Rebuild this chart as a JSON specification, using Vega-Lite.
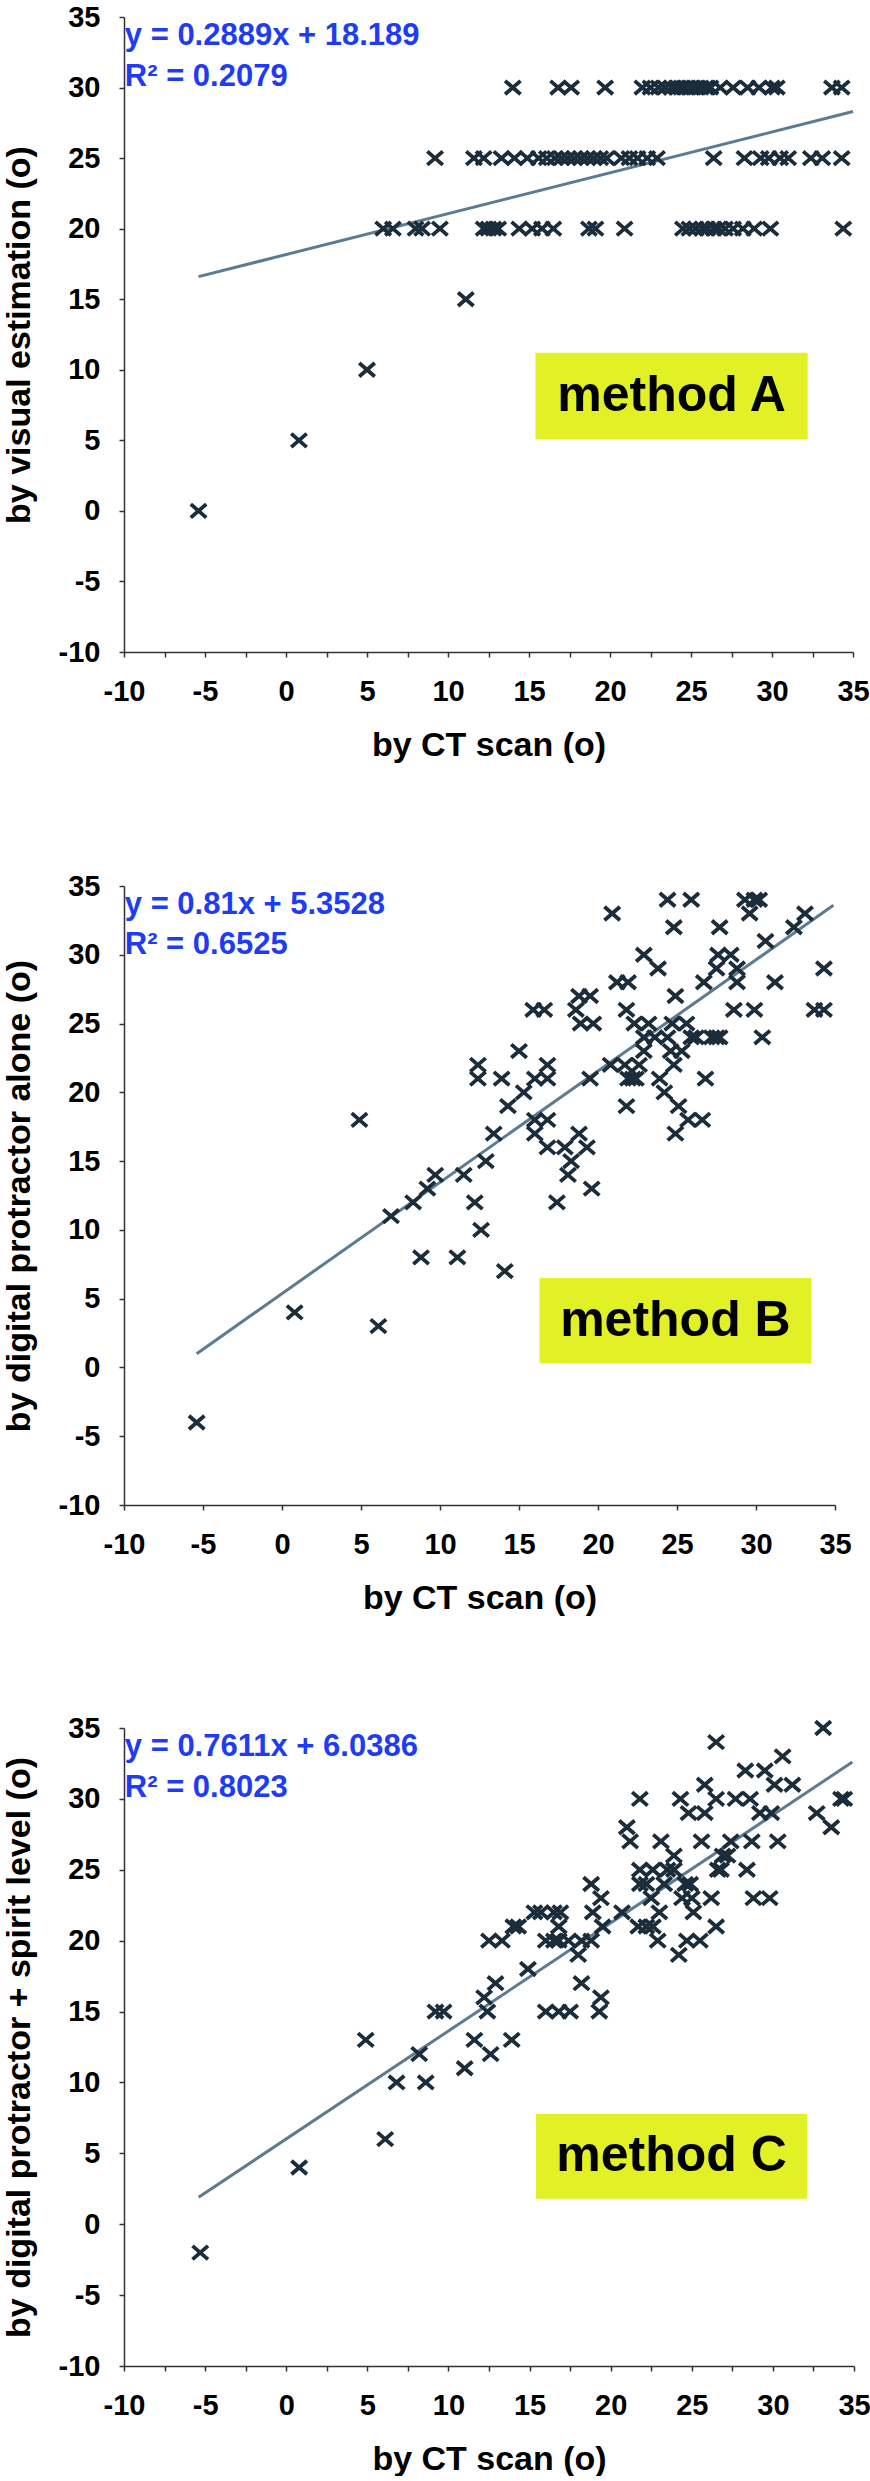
{
  "$schema": "https://vega.github.io/schema/vega-lite/v6.json",
  "padding": {"left": 2, "top": 3, "right": 0, "bottom": 0},
  "background": "white",
  "datasets": {
    "A": [
      {"x": -5.4, "y": 0}, {"x": 0.8, "y": 5}, {"x": 5.0, "y": 10}, {"x": 11.1, "y": 15},
      {"x": 14.0, "y": 30}, {"x": 16.8, "y": 30}, {"x": 17.6, "y": 30}, {"x": 19.7, "y": 30},
      {"x": 22.0, "y": 30}, {"x": 22.5, "y": 30}, {"x": 23.0, "y": 30}, {"x": 23.4, "y": 30},
      {"x": 23.8, "y": 30}, {"x": 24.1, "y": 30}, {"x": 24.4, "y": 30}, {"x": 24.7, "y": 30},
      {"x": 25.0, "y": 30}, {"x": 25.3, "y": 30}, {"x": 25.6, "y": 30}, {"x": 25.9, "y": 30},
      {"x": 26.2, "y": 30}, {"x": 26.8, "y": 30}, {"x": 27.6, "y": 30}, {"x": 28.5, "y": 30},
      {"x": 29.2, "y": 30}, {"x": 30.0, "y": 30}, {"x": 30.3, "y": 30}, {"x": 33.7, "y": 30},
      {"x": 34.3, "y": 30},
      {"x": 9.2, "y": 25}, {"x": 11.6, "y": 25}, {"x": 12.2, "y": 25}, {"x": 13.3, "y": 25},
      {"x": 14.1, "y": 25}, {"x": 14.9, "y": 25}, {"x": 15.6, "y": 25}, {"x": 16.1, "y": 25},
      {"x": 16.6, "y": 25}, {"x": 17.0, "y": 25}, {"x": 17.4, "y": 25}, {"x": 17.8, "y": 25},
      {"x": 18.2, "y": 25}, {"x": 18.6, "y": 25}, {"x": 19.0, "y": 25}, {"x": 19.4, "y": 25},
      {"x": 19.8, "y": 25}, {"x": 20.7, "y": 25}, {"x": 21.2, "y": 25}, {"x": 21.7, "y": 25},
      {"x": 22.3, "y": 25}, {"x": 22.9, "y": 25}, {"x": 26.4, "y": 25}, {"x": 28.3, "y": 25},
      {"x": 29.3, "y": 25}, {"x": 29.8, "y": 25}, {"x": 30.5, "y": 25}, {"x": 31.0, "y": 25},
      {"x": 32.4, "y": 25}, {"x": 33.1, "y": 25}, {"x": 34.3, "y": 25},
      {"x": 6.0, "y": 20}, {"x": 6.6, "y": 20}, {"x": 8.0, "y": 20}, {"x": 8.4, "y": 20},
      {"x": 9.5, "y": 20}, {"x": 12.2, "y": 20}, {"x": 12.5, "y": 20}, {"x": 12.8, "y": 20},
      {"x": 13.1, "y": 20}, {"x": 14.4, "y": 20}, {"x": 15.2, "y": 20}, {"x": 15.8, "y": 20},
      {"x": 16.5, "y": 20}, {"x": 18.7, "y": 20}, {"x": 19.1, "y": 20}, {"x": 20.9, "y": 20},
      {"x": 24.5, "y": 20}, {"x": 24.9, "y": 20}, {"x": 25.3, "y": 20}, {"x": 25.7, "y": 20},
      {"x": 26.0, "y": 20}, {"x": 26.4, "y": 20}, {"x": 26.7, "y": 20}, {"x": 27.1, "y": 20},
      {"x": 27.6, "y": 20}, {"x": 28.2, "y": 20}, {"x": 28.9, "y": 20}, {"x": 29.9, "y": 20},
      {"x": 34.4, "y": 20}
    ],
    "B": [
      {"x": -5.4, "y": -4}, {"x": 0.8, "y": 4}, {"x": 6.1, "y": 3}, {"x": 4.9, "y": 18},
      {"x": 6.9, "y": 11}, {"x": 8.3, "y": 12}, {"x": 8.8, "y": 8}, {"x": 9.2, "y": 13},
      {"x": 9.7, "y": 14}, {"x": 11.1, "y": 8}, {"x": 11.5, "y": 14}, {"x": 12.2, "y": 12},
      {"x": 12.6, "y": 10}, {"x": 12.9, "y": 15}, {"x": 13.4, "y": 17}, {"x": 14.1, "y": 7},
      {"x": 14.3, "y": 19}, {"x": 15.3, "y": 20}, {"x": 15.0, "y": 23}, {"x": 12.4, "y": 22},
      {"x": 12.4, "y": 21}, {"x": 13.9, "y": 21}, {"x": 16.0, "y": 21}, {"x": 16.8, "y": 22},
      {"x": 16.8, "y": 21}, {"x": 15.9, "y": 26}, {"x": 16.6, "y": 26}, {"x": 18.6, "y": 26},
      {"x": 18.8, "y": 27}, {"x": 19.5, "y": 27}, {"x": 18.9, "y": 25}, {"x": 19.7, "y": 25},
      {"x": 19.5, "y": 21}, {"x": 16.0, "y": 18}, {"x": 16.8, "y": 18}, {"x": 16.0, "y": 17},
      {"x": 16.8, "y": 16}, {"x": 17.9, "y": 16}, {"x": 17.4, "y": 12}, {"x": 18.3, "y": 15},
      {"x": 18.1, "y": 14}, {"x": 18.8, "y": 17}, {"x": 19.3, "y": 16}, {"x": 19.6, "y": 13},
      {"x": 20.9, "y": 33}, {"x": 24.4, "y": 34}, {"x": 25.9, "y": 34}, {"x": 29.3, "y": 34},
      {"x": 29.9, "y": 34}, {"x": 30.2, "y": 34}, {"x": 29.6, "y": 33}, {"x": 24.8, "y": 32},
      {"x": 27.7, "y": 32}, {"x": 33.1, "y": 33}, {"x": 32.4, "y": 32}, {"x": 30.6, "y": 31},
      {"x": 22.9, "y": 30}, {"x": 23.8, "y": 29}, {"x": 27.6, "y": 30}, {"x": 28.4, "y": 30},
      {"x": 27.5, "y": 29}, {"x": 28.8, "y": 29}, {"x": 34.3, "y": 29}, {"x": 28.8, "y": 28},
      {"x": 26.7, "y": 28}, {"x": 31.2, "y": 28}, {"x": 21.2, "y": 28}, {"x": 21.9, "y": 28},
      {"x": 24.9, "y": 27}, {"x": 21.8, "y": 26}, {"x": 28.6, "y": 26}, {"x": 29.9, "y": 26},
      {"x": 33.7, "y": 26}, {"x": 34.3, "y": 26}, {"x": 22.3, "y": 25}, {"x": 23.2, "y": 25},
      {"x": 24.7, "y": 25}, {"x": 25.6, "y": 25},
      {"x": 22.9, "y": 24}, {"x": 23.6, "y": 24}, {"x": 24.4, "y": 24}, {"x": 25.9, "y": 24},
      {"x": 26.2, "y": 24}, {"x": 27.2, "y": 24}, {"x": 27.5, "y": 24}, {"x": 27.7, "y": 24},
      {"x": 30.4, "y": 24}, {"x": 22.9, "y": 23}, {"x": 24.6, "y": 23}, {"x": 25.3, "y": 23},
      {"x": 20.8, "y": 22}, {"x": 21.7, "y": 22}, {"x": 22.6, "y": 22}, {"x": 24.8, "y": 22},
      {"x": 21.9, "y": 21}, {"x": 22.2, "y": 21}, {"x": 22.4, "y": 21}, {"x": 23.9, "y": 21},
      {"x": 26.8, "y": 21}, {"x": 24.2, "y": 20}, {"x": 21.8, "y": 19}, {"x": 25.1, "y": 19},
      {"x": 25.7, "y": 18}, {"x": 26.6, "y": 18}, {"x": 24.9, "y": 17}
    ],
    "C": [
      {"x": -5.3, "y": -2}, {"x": 0.8, "y": 4}, {"x": 6.1, "y": 6}, {"x": 4.9, "y": 13},
      {"x": 6.8, "y": 10}, {"x": 8.6, "y": 10}, {"x": 8.2, "y": 12}, {"x": 11.0, "y": 11},
      {"x": 11.6, "y": 13}, {"x": 12.6, "y": 12}, {"x": 13.9, "y": 13}, {"x": 9.2, "y": 15},
      {"x": 9.7, "y": 15}, {"x": 12.4, "y": 15}, {"x": 12.2, "y": 16}, {"x": 12.9, "y": 17},
      {"x": 14.9, "y": 18}, {"x": 16.0, "y": 15}, {"x": 16.8, "y": 15}, {"x": 17.5, "y": 15},
      {"x": 18.2, "y": 17}, {"x": 19.3, "y": 15}, {"x": 19.4, "y": 16}, {"x": 12.5, "y": 20},
      {"x": 13.3, "y": 20}, {"x": 14.0, "y": 21}, {"x": 14.3, "y": 21}, {"x": 15.3, "y": 22},
      {"x": 15.7, "y": 22}, {"x": 16.5, "y": 22}, {"x": 16.9, "y": 22}, {"x": 16.8, "y": 21},
      {"x": 16.0, "y": 20}, {"x": 16.5, "y": 20}, {"x": 16.8, "y": 20}, {"x": 17.4, "y": 20},
      {"x": 18.2, "y": 20}, {"x": 18.8, "y": 20}, {"x": 18.0, "y": 19}, {"x": 18.8, "y": 24},
      {"x": 19.4, "y": 23}, {"x": 18.9, "y": 22}, {"x": 19.5, "y": 21},
      {"x": 33.1, "y": 35}, {"x": 26.5, "y": 34}, {"x": 30.6, "y": 33}, {"x": 28.3, "y": 32},
      {"x": 29.5, "y": 32}, {"x": 25.8, "y": 31}, {"x": 30.1, "y": 31}, {"x": 31.2, "y": 31},
      {"x": 21.8, "y": 30}, {"x": 24.3, "y": 30}, {"x": 26.5, "y": 30}, {"x": 27.7, "y": 30},
      {"x": 28.6, "y": 30}, {"x": 34.2, "y": 30}, {"x": 34.4, "y": 30}, {"x": 24.8, "y": 29},
      {"x": 25.8, "y": 29}, {"x": 29.2, "y": 29}, {"x": 29.9, "y": 29}, {"x": 32.7, "y": 29},
      {"x": 21.0, "y": 28}, {"x": 33.6, "y": 28}, {"x": 21.2, "y": 27}, {"x": 23.1, "y": 27},
      {"x": 25.6, "y": 27}, {"x": 27.4, "y": 27}, {"x": 28.7, "y": 27}, {"x": 30.3, "y": 27},
      {"x": 23.9, "y": 26}, {"x": 26.9, "y": 26}, {"x": 27.2, "y": 26}, {"x": 21.8, "y": 25},
      {"x": 22.6, "y": 25}, {"x": 23.5, "y": 25}, {"x": 23.9, "y": 25}, {"x": 26.6, "y": 25},
      {"x": 26.8, "y": 25}, {"x": 28.4, "y": 25}, {"x": 21.8, "y": 24}, {"x": 22.2, "y": 24},
      {"x": 23.3, "y": 24}, {"x": 24.6, "y": 24}, {"x": 24.9, "y": 24}, {"x": 22.5, "y": 23},
      {"x": 24.4, "y": 23}, {"x": 25.0, "y": 23}, {"x": 26.2, "y": 23}, {"x": 28.8, "y": 23},
      {"x": 29.8, "y": 23}, {"x": 20.7, "y": 22}, {"x": 23.0, "y": 22}, {"x": 25.1, "y": 22},
      {"x": 21.7, "y": 21}, {"x": 22.2, "y": 21}, {"x": 22.6, "y": 21}, {"x": 26.5, "y": 21},
      {"x": 22.9, "y": 20}, {"x": 24.7, "y": 20}, {"x": 25.5, "y": 20}, {"x": 24.2, "y": 19}
    ],
    "lineA": [{"x": -5.4, "y": 16.6}, {"x": 35.0, "y": 28.3}],
    "lineB": [{"x": -5.4, "y": 1.0}, {"x": 34.9, "y": 33.6}],
    "lineC": [{"x": -5.4, "y": 1.9}, {"x": 34.9, "y": 32.6}],
    "one": [{}]
  },
  "config": {
    "view": {"stroke": null},
    "font": "Liberation Sans",
    "axis": {
      "grid": false,
      "domainColor": "#333333", "domainWidth": 1.5,
      "tickColor": "#333333", "tickWidth": 1.5, "tickSize": 5,
      "labelFont": "Liberation Sans", "labelFontWeight": "bold", "labelFontSize": 29, "labelColor": "#000000",
      "titleFont": "Liberation Sans", "titleFontWeight": "bold", "titleFontSize": 34, "titleColor": "#000000",
      "labelOverlap": false, "labelFlush": false
    },
    "axisX": {"labelPadding": 20, "titlePadding": 22},
    "axisY": {"labelPadding": 19, "titlePadding": 22}
  },
  "vconcat": [
    {
      "width": 729, "height": 635,
      "layer": [
        {"data": {"name": "one"}, "mark": {"type": "rect", "color": "#e2f125"},
         "encoding": {
           "x": {"datum": 15.4, "type": "quantitative", "title": "by CT scan (o)", "scale": {"domain": [-10, 35], "nice": false, "zero": false}},
           "x2": {"datum": 32.2},
           "y": {"datum": 11.2, "type": "quantitative", "title": "by visual estimation (o)", "scale": {"domain": [-10, 35], "nice": false, "zero": false}},
           "y2": {"datum": 5.1}}},
        {"data": {"name": "one"}, "mark": {"type": "text", "font": "Liberation Sans", "fontWeight": "bold", "fontSize": 50, "color": "#000000", "align": "center", "baseline": "middle"},
         "encoding": {
           "x": {"datum": 23.8, "type": "quantitative", "title": "by CT scan (o)", "scale": {"domain": [-10, 35], "nice": false, "zero": false}},
           "y": {"datum": 8.15, "type": "quantitative", "title": "by visual estimation (o)", "scale": {"domain": [-10, 35], "nice": false, "zero": false}},
           "text": {"value": "method A"}}},
        {"data": {"name": "lineA"}, "mark": {"type": "line", "color": "#5b7b92", "strokeWidth": 3},
         "encoding": {
           "x": {"field": "x", "type": "quantitative", "title": "by CT scan (o)", "scale": {"domain": [-10, 35], "nice": false, "zero": false}},
           "y": {"field": "y", "type": "quantitative", "title": "by visual estimation (o)", "scale": {"domain": [-10, 35], "nice": false, "zero": false}}}},
        {"data": {"name": "A"}, "mark": {"type": "point", "shape": "M-1,-0.87L1,0.87M-1,0.87L1,-0.87", "filled": false, "color": "#1b2d3b", "strokeWidth": 3.8, "size": 240, "opacity": 1},
         "encoding": {
           "x": {"field": "x", "type": "quantitative", "title": "by CT scan (o)", "scale": {"domain": [-10, 35], "nice": false, "zero": false},
                 "axis": {"values": [-10, -7.5, -5, -2.5, 0, 2.5, 5, 7.5, 10, 12.5, 15, 17.5, 20, 22.5, 25, 27.5, 30, 32.5, 35], "labelExpr": "datum.value % 5 == 0 ? '' + datum.value : ''"}},
           "y": {"field": "y", "type": "quantitative", "title": "by visual estimation (o)", "scale": {"domain": [-10, 35], "nice": false, "zero": false},
                 "axis": {"values": [-10, -5, 0, 5, 10, 15, 20, 25, 30, 35], "labelExpr": "'' + datum.value"}}}},
        {"data": {"name": "one"}, "mark": {"type": "text", "font": "Liberation Sans", "fontWeight": "bold", "fontSize": 31, "color": "#1e3cf5", "align": "left", "baseline": "alphabetic", "lineHeight": 41},
         "encoding": {
           "x": {"datum": -9.95, "type": "quantitative", "title": "by CT scan (o)", "scale": {"domain": [-10, 35], "nice": false, "zero": false}},
           "y": {"datum": 33.0, "type": "quantitative", "title": "by visual estimation (o)", "scale": {"domain": [-10, 35], "nice": false, "zero": false}},
           "text": {"value": ["y = 0.2889x + 18.189", "R² = 0.2079"]}}}
      ]
    },
    {
      "spacing": 98,
      "vconcat": [
        {
          "width": 711, "height": 619,
          "layer": [
            {"data": {"name": "one"}, "mark": {"type": "rect", "color": "#e2f125"},
             "encoding": {
               "x": {"datum": 16.3, "type": "quantitative", "title": "by CT scan (o)", "scale": {"domain": [-10, 35], "nice": false, "zero": false}},
               "x2": {"datum": 33.5},
               "y": {"datum": 6.5, "type": "quantitative", "title": "by digital protractor alone (o)", "scale": {"domain": [-10, 35], "nice": false, "zero": false}},
               "y2": {"datum": 0.3}}},
            {"data": {"name": "one"}, "mark": {"type": "text", "font": "Liberation Sans", "fontWeight": "bold", "fontSize": 50, "color": "#000000", "align": "center", "baseline": "middle"},
             "encoding": {
               "x": {"datum": 24.9, "type": "quantitative", "title": "by CT scan (o)", "scale": {"domain": [-10, 35], "nice": false, "zero": false}},
               "y": {"datum": 3.4, "type": "quantitative", "title": "by digital protractor alone (o)", "scale": {"domain": [-10, 35], "nice": false, "zero": false}},
               "text": {"value": "method B"}}},
            {"data": {"name": "lineB"}, "mark": {"type": "line", "color": "#5b7b92", "strokeWidth": 3},
             "encoding": {
               "x": {"field": "x", "type": "quantitative", "title": "by CT scan (o)", "scale": {"domain": [-10, 35], "nice": false, "zero": false}},
               "y": {"field": "y", "type": "quantitative", "title": "by digital protractor alone (o)", "scale": {"domain": [-10, 35], "nice": false, "zero": false}}}},
            {"data": {"name": "B"}, "mark": {"type": "point", "shape": "M-1,-0.87L1,0.87M-1,0.87L1,-0.87", "filled": false, "color": "#1b2d3b", "strokeWidth": 3.8, "size": 240, "opacity": 1},
             "encoding": {
               "x": {"field": "x", "type": "quantitative", "title": "by CT scan (o)", "scale": {"domain": [-10, 35], "nice": false, "zero": false},
                     "axis": {"values": [-10, -7.5, -5, -2.5, 0, 2.5, 5, 7.5, 10, 12.5, 15, 17.5, 20, 22.5, 25, 27.5, 30, 32.5, 35], "labelExpr": "datum.value % 5 == 0 ? '' + datum.value : ''"}},
               "y": {"field": "y", "type": "quantitative", "title": "by digital protractor alone (o)", "scale": {"domain": [-10, 35], "nice": false, "zero": false},
                     "axis": {"values": [-10, -5, 0, 5, 10, 15, 20, 25, 30, 35], "labelExpr": "'' + datum.value"}}}},
            {"data": {"name": "one"}, "mark": {"type": "text", "font": "Liberation Sans", "fontWeight": "bold", "fontSize": 31, "color": "#1e3cf5", "align": "left", "baseline": "alphabetic", "lineHeight": 40},
             "encoding": {
               "x": {"datum": -9.95, "type": "quantitative", "title": "by CT scan (o)", "scale": {"domain": [-10, 35], "nice": false, "zero": false}},
               "y": {"datum": 33.0, "type": "quantitative", "title": "by digital protractor alone (o)", "scale": {"domain": [-10, 35], "nice": false, "zero": false}},
               "text": {"value": ["y = 0.81x + 5.3528", "R² = 0.6525"]}}}
          ]
        },
        {
          "width": 730, "height": 638,
          "layer": [
            {"data": {"name": "one"}, "mark": {"type": "rect", "color": "#e2f125"},
             "encoding": {
               "x": {"datum": 15.4, "type": "quantitative", "title": "by CT scan (o)", "scale": {"domain": [-10, 35], "nice": false, "zero": false}},
               "x2": {"datum": 32.1},
               "y": {"datum": 7.8, "type": "quantitative", "title": "by digital protractor + spirit level (o)", "scale": {"domain": [-10, 35], "nice": false, "zero": false}},
               "y2": {"datum": 1.8}}},
            {"data": {"name": "one"}, "mark": {"type": "text", "font": "Liberation Sans", "fontWeight": "bold", "fontSize": 50, "color": "#000000", "align": "center", "baseline": "middle"},
             "encoding": {
               "x": {"datum": 23.75, "type": "quantitative", "title": "by CT scan (o)", "scale": {"domain": [-10, 35], "nice": false, "zero": false}},
               "y": {"datum": 4.8, "type": "quantitative", "title": "by digital protractor + spirit level (o)", "scale": {"domain": [-10, 35], "nice": false, "zero": false}},
               "text": {"value": "method C"}}},
            {"data": {"name": "lineC"}, "mark": {"type": "line", "color": "#5b7b92", "strokeWidth": 3},
             "encoding": {
               "x": {"field": "x", "type": "quantitative", "title": "by CT scan (o)", "scale": {"domain": [-10, 35], "nice": false, "zero": false}},
               "y": {"field": "y", "type": "quantitative", "title": "by digital protractor + spirit level (o)", "scale": {"domain": [-10, 35], "nice": false, "zero": false}}}},
            {"data": {"name": "C"}, "mark": {"type": "point", "shape": "M-1,-0.87L1,0.87M-1,0.87L1,-0.87", "filled": false, "color": "#1b2d3b", "strokeWidth": 3.8, "size": 240, "opacity": 1},
             "encoding": {
               "x": {"field": "x", "type": "quantitative", "title": "by CT scan (o)", "scale": {"domain": [-10, 35], "nice": false, "zero": false},
                     "axis": {"values": [-10, -7.5, -5, -2.5, 0, 2.5, 5, 7.5, 10, 12.5, 15, 17.5, 20, 22.5, 25, 27.5, 30, 32.5, 35], "labelExpr": "datum.value % 5 == 0 ? '' + datum.value : ''"}},
               "y": {"field": "y", "type": "quantitative", "title": "by digital protractor + spirit level (o)", "scale": {"domain": [-10, 35], "nice": false, "zero": false},
                     "axis": {"values": [-10, -5, 0, 5, 10, 15, 20, 25, 30, 35], "labelExpr": "'' + datum.value"}}}},
            {"data": {"name": "one"}, "mark": {"type": "text", "font": "Liberation Sans", "fontWeight": "bold", "fontSize": 31, "color": "#1e3cf5", "align": "left", "baseline": "alphabetic", "lineHeight": 41},
             "encoding": {
               "x": {"datum": -9.95, "type": "quantitative", "title": "by CT scan (o)", "scale": {"domain": [-10, 35], "nice": false, "zero": false}},
               "y": {"datum": 33.0, "type": "quantitative", "title": "by digital protractor + spirit level (o)", "scale": {"domain": [-10, 35], "nice": false, "zero": false}},
               "text": {"value": ["y = 0.7611x + 6.0386", "R² = 0.8023"]}}}
          ]
        }
      ]
    }
  ],
  "spacing": 110
}
